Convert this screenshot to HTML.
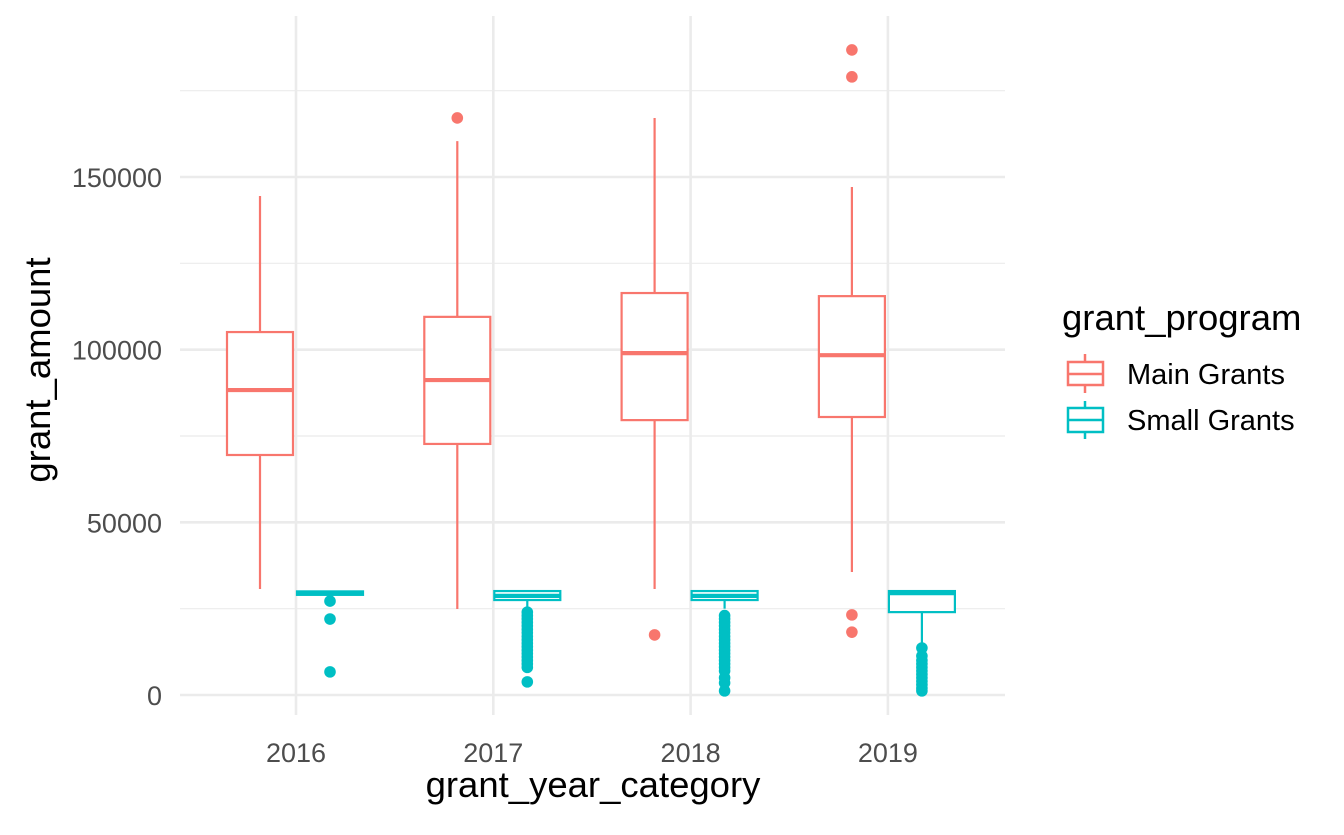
<!DOCTYPE html>
<html><head><meta charset="utf-8"><style>
body{margin:0;background:#fff;width:1344px;height:830px;overflow:hidden}
svg text{font-family:"Liberation Sans",Arial,sans-serif}
</style></head><body>
<svg id="chart" width="1344" height="830" xmlns="http://www.w3.org/2000/svg"></svg>
<script>
const years=["2016","2017","2018","2019"];
const yTicks=[0,50000,100000,150000];
const yMinor=[25000,75000,125000,175000];
// [whiskerLow, q1, median, q3, whiskerHigh]
const mainStats=[[30700,69500,88300,105100,144500],[24900,72700,91200,109500,160400],[30700,79600,99000,116400,167100],[35600,80500,98400,115500,147100]];
const smallStats=[[29000,29000,29500,30000,30000],[25500,27500,28700,30100,30100],[25000,27500,28700,30100,30100],[14500,24000,29500,30100,30100]];
const mainOut=[[],[167100],[17400],[186800,179000,23200,18200]];
const smallOut=[[27200,22000,6700],[24000,23000,22000,21000,20000,19000,18000,17000,16000,15000,14000,13000,12000,11000,10000,9000,8000,3800],[23000,22000,21000,20000,19000,18000,17000,16000,15000,14000,13000,12000,11000,10000,9000,8000,7000,5000,3500,1200],[13600,11300,10000,9000,8000,7000,6000,5000,4000,3000,2000,1200]];
const colMain="#F8766D", colSmall="#00BFC4";
const svg=document.getElementById('chart');
const NS="http://www.w3.org/2000/svg";
function y(v){return 695-v*518/150000;}
function x(i){return 296+i*197.3;}
function el(tag,attrs,parent){const e=document.createElementNS(NS,tag);for(const k in attrs)e.setAttribute(k,attrs[k]);(parent||svg).appendChild(e);return e;}
const grid=el('g',{});


yMinor.forEach(v=>el('line',{x1:180,x2:1005,y1:y(v),y2:y(v),stroke:'#ebebeb','stroke-width':1.2},grid));
yTicks.forEach(v=>el('line',{x1:180,x2:1005,y1:y(v),y2:y(v),stroke:'#ebebeb','stroke-width':2.6},grid));
years.forEach((t,i)=>el('line',{x1:x(i),x2:x(i),y1:16,y2:715,stroke:'#ebebeb','stroke-width':2.6},grid));
yTicks.forEach(v=>{const t=el('text',{x:162,y:y(v)+10,'text-anchor':'end','font-size':27,fill:'#4d4d4d'});t.textContent=v;

});
years.forEach((yr,i)=>{const t=el('text',{x:x(i),y:762,'text-anchor':'middle','font-size':27,fill:'#4d4d4d'});t.textContent=yr;

});
function box(cx,s,out,col,name){
 const g=el('g',{});
 
 
 const hw=33;
 el('line',{x1:cx,x2:cx,y1:y(s[4]),y2:y(s[3]),stroke:col,'stroke-width':2.2},g);
 el('line',{x1:cx,x2:cx,y1:y(s[1]),y2:y(s[0]),stroke:col,'stroke-width':2.2},g);
 el('rect',{x:cx-hw,y:y(s[3]),width:hw*2,height:Math.max(y(s[1])-y(s[3]),1),fill:'#fff',stroke:col,'stroke-width':2.2},g);
 el('line',{x1:cx-hw,x2:cx+hw,y1:y(s[2]),y2:y(s[2]),stroke:col,'stroke-width':4.2},g);
 out.forEach(v=>el('circle',{cx:cx,cy:y(v),r:5.8,fill:col},g));
}
years.forEach((yr,i)=>{box(x(i)-36,mainStats[i],mainOut[i],colMain,'box-main-'+yr);box(x(i)+34,smallStats[i],smallOut[i],colSmall,'box-small-'+yr);});
</script>
<svg style="position:absolute;left:0;top:0" width="1344" height="830" xmlns="http://www.w3.org/2000/svg">
<text x="593" y="797" text-anchor="middle" font-size="36.5" fill="#000">grant_year_category</text>
<text transform="translate(50,370) rotate(-90)" text-anchor="middle" font-size="36.5" fill="#000">grant_amount</text>
<g>
<text x="1062" y="330" font-size="36.5" fill="#000">grant_program</text>
<g>
<line x1="1085" x2="1085" y1="354" y2="393" stroke="#F8766D" stroke-width="2.5"/>
<rect x="1068" y="362" width="35" height="23" fill="#fff" stroke="#F8766D" stroke-width="2.5"/>
<line x1="1068" x2="1103" y1="374" y2="374" stroke="#F8766D" stroke-width="2.5"/>
<text x="1127" y="384" font-size="29" fill="#000">Main Grants</text></g>
<g>
<line x1="1085" x2="1085" y1="401" y2="439" stroke="#00BFC4" stroke-width="2.5"/>
<rect x="1068" y="408" width="35" height="24" fill="#fff" stroke="#00BFC4" stroke-width="2.5"/>
<line x1="1068" x2="1103" y1="420" y2="420" stroke="#00BFC4" stroke-width="2.5"/>
<text x="1127" y="430" font-size="29" fill="#000">Small Grants</text></g>
</g>
</svg>
</body></html>
